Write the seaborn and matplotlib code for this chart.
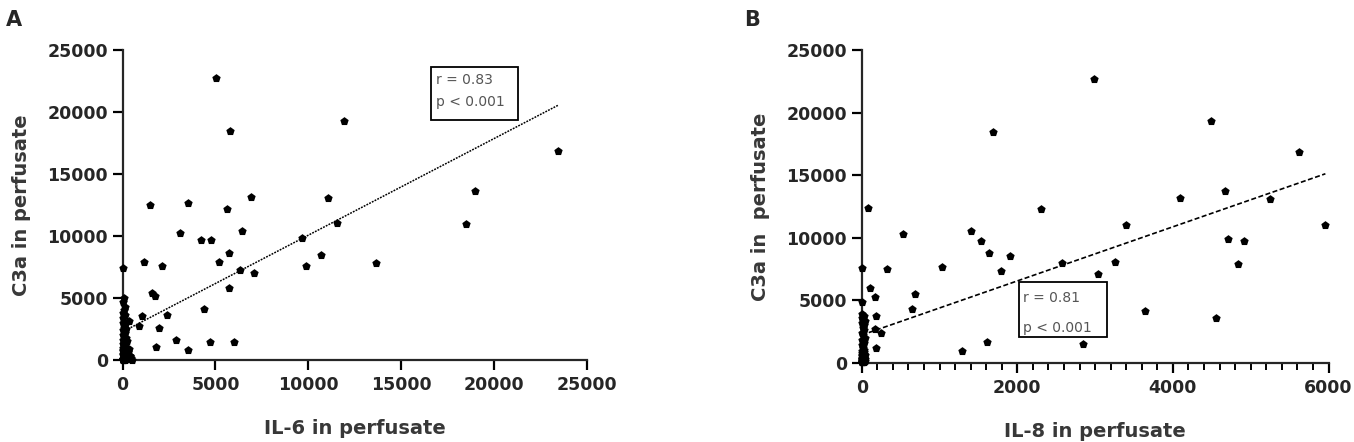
import numpy as np
import pandas as pd
import matplotlib
matplotlib.use('Agg')
import matplotlib.pyplot as plt
import seaborn as sns
from matplotlib.patches import Rectangle
from matplotlib.ticker import MultipleLocator

# %% data (pg/ml)
# panel A: scattered samples, then the dense column close to IL-6 = 0
il6_x = [5040, 5770, 11900, 23460, 18970, 18470, 13640, 1460, 3520, 5630,
         6930, 11040, 3070, 4200, 4770, 6430, 5750, 5180, 1160, 2140,
         50, 6340, 7060, 9680, 9860, 10660, 11570, 5730, 1600, 1750,
         4380, 2380, 1070, 890, 1960, 1790, 2860, 3520, 4700, 6020,
         80, 30, 120, 60, 20, 150, 40, 330, 10, 160,
         60, 200, 20, 110, 40, 170, 10, 250, 90, 30,
         140, 60, 0, 200, 110, 330, 50, 20, 270, 240,
         90, 10, 160, 20, 400, 380, 60, 110, 300, 450,
         30, 200, 0, 350, 0, 130, 500, 70, 40, 0,
         250, 90, 10]
il6_c3a = [22730, 18480, 19300, 16850, 13650, 10940, 7790, 12460, 12670, 12160,
           13180, 13050, 10220, 9680, 9680, 10440, 8660, 7940, 7940, 7590,
           7450, 7260, 7050, 9870, 7590, 8470, 11030, 5840, 5380, 5150,
           4090, 3630, 3550, 2740, 2560, 1080, 1610, 810, 1480, 1450,
           5000, 4700, 4300, 4050, 3800, 3600, 3400, 3150, 3000, 2800,
           2600, 2500, 2400, 2200, 2000, 1800, 1600, 1500, 1400, 1300,
           1200, 1100, 1000, 950, 900, 850, 800, 700, 650, 600,
           550, 500, 450, 400, 350, 300, 250, 200, 180, 150,
           120, 100, 80, 60, 50, 40, 30, 20, 10, 0,
           50, 50, 50]

# panel B: scattered samples, then the dense column close to IL-8 = 0
il8_x = [2990, 1690, 80, 2300, 530, 1400, 1530, 1630, 1910, 1790,
         1030, 320, 0, 110, 170, 690, 650, 0, 190, 170,
         250, 190, 1290, 1610, 2580, 3040, 2850, 4490, 5620, 4090,
         4670, 5250, 3400, 5960, 4710, 4920, 4840, 3260, 3640, 4560,
         10, 30, 0, 20, 40, 5, 25, 15, 35, 0,
         20, 40, 10, 30, 0, 15, 25, 5, 35, 20,
         0, 30, 10, 40, 25, 5, 15, 35, 0, 20,
         30, 10, 40, 0, 25, 15, 5, 35, 20, 10,
         30, 0, 40, 15, 25, 5, 20, 10, 0]
il8_c3a = [22700, 18470, 12390, 12260, 10260, 10530, 9750, 8740, 8560, 7360,
           7620, 7520, 7600, 5940, 5280, 5460, 4260, 4880, 3730, 2720,
           2400, 1150, 930, 1680, 7940, 7060, 1490, 19350, 16870, 13140,
           13720, 13090, 11010, 11010, 9890, 9750, 7860, 8020, 4160, 3540,
           3900, 3750, 3600, 3450, 3300, 3150, 3000, 2800, 2600, 2400,
           2200, 2000, 1800, 1600, 1400, 1200, 1000, 900, 850, 800,
           750, 700, 650, 600, 550, 500, 450, 400, 380, 360,
           340, 320, 300, 280, 260, 240, 220, 200, 180, 160,
           140, 120, 100, 80, 60, 50, 40, 30, 20]

stats_a = ['r = 0.83', 'p < 0.001']
stats_b = ['r = 0.81', 'p < 0.001']

y_ticks = [0, 5000, 10000, 15000, 20000, 25000]
x_ticks_a = [0, 5000, 10000, 15000, 20000, 25000]
x_ticks_b = [0, 2000, 4000, 6000]

# %%
sns.set_style('ticks')
plt.rcParams['font.family'] = ['DejaVu Sans']


def style_axis(ax, xticks, yticks, xlabel, ylabel):
    ax.set_xlim(0, xticks[-1])
    ax.set_ylim(0, yticks[-1])
    ax.set_xticks(xticks)
    ax.set_yticks(yticks)
    sns.despine(ax=ax)
    [x.set_linewidth(1.6) for x in ax.spines.values()]
    ax.tick_params(axis='both', which='major', length=7.5, width=1.6,
                   labelsize=12.5, pad=3, color='black')
    ax.tick_params(axis='x', pad=4)
    for lab in ax.get_xticklabels() + ax.get_yticklabels():
        lab.set_fontweight('bold')
    ax.set_xlabel(xlabel, fontsize=14, fontweight='bold', color='#383838', labelpad=18)
    ax.set_ylabel(ylabel, fontsize=14, fontweight='bold', color='#383838', labelpad=12)


def stat_box(ax, x0, y0, w, h, tx, ty, lines):
    ax.add_patch(Rectangle((x0, y0), w, h, facecolor='white', edgecolor='black',
                           linewidth=1.3, zorder=4))
    for t, yy in zip(lines, ty):
        ax.text(tx, yy, t, fontsize=10, color='#555555', va='center', ha='left', zorder=5)


fig = plt.figure(figsize=(13.54, 4.42), dpi=100)
ax1 = fig.add_axes([122.5 / 1354, (442 - 360) / 442, 464.5 / 1354, 310 / 442])
ax2 = fig.add_axes([861.7 / 1354, (442 - 362.7) / 442, 466.8 / 1354, 312.7 / 442])

df_a = pd.DataFrame({'IL6': il6_x, 'C3a': il6_c3a})
df_b = pd.DataFrame({'IL8': il8_x, 'C3a': il8_c3a})

sns.regplot(data=df_a, x='IL6', y='C3a', ax=ax1, ci=None, scatter=False,
            line_kws={'color': 'black', 'linewidth': 1.1, 'linestyle': (0, (1.2, 0.8))})
sns.scatterplot(data=df_a, x='IL6', y='C3a', ax=ax1, color='black', marker='p',
                s=40, linewidth=0, clip_on=False, zorder=3)

sns.regplot(data=df_b, x='IL8', y='C3a', ax=ax2, ci=None, scatter=False,
            line_kws={'color': 'black', 'linewidth': 1.2, 'linestyle': (0, (3, 1.5))})
sns.scatterplot(data=df_b, x='IL8', y='C3a', ax=ax2, color='black', marker='p',
                s=40, linewidth=0, clip_on=False, zorder=3)

style_axis(ax1, x_ticks_a, y_ticks, 'IL-6 in perfusate', 'C3a in perfusate')
style_axis(ax2, x_ticks_b, y_ticks, 'IL-8 in perfusate', 'C3a in  perfusate')
ax2.xaxis.set_minor_locator(MultipleLocator(200))
ax2.tick_params(axis='x', which='minor', length=5, width=1.4, color='black')

stat_box(ax1, 16590, 19340, 4710, 4250, 16870, [22570, 20820], stats_a)
stat_box(ax2, 2026, 2079, 1131, 4349, 2077, [5150, 2750], stats_b)

fig.text(6 / 1354, 1 - 10 / 442, 'A', fontsize=15, fontweight='bold', va='top', ha='left')
fig.text(744 / 1354, 1 - 10 / 442, 'B', fontsize=15, fontweight='bold', va='top', ha='left')

plt.savefig('out.png', dpi=100)
